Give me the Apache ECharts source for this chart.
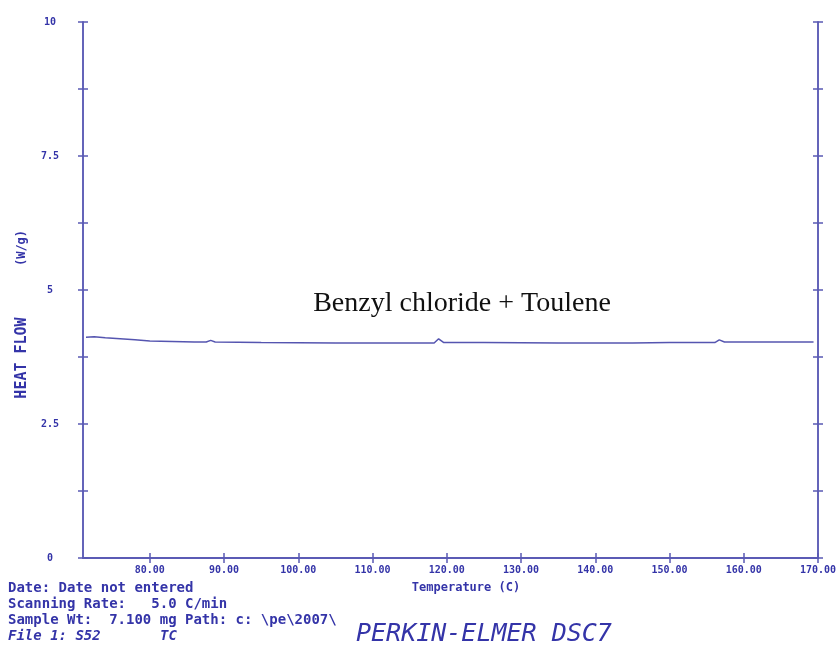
<!DOCTYPE html>
<html><head><meta charset="utf-8">
<script src="https://cdn.jsdelivr.net/npm/echarts@6/dist/echarts.min.js"></script>
<style>html,body{margin:0;padding:0;background:#fff}#c{width:840px;height:646px}</style>
</head><body><div id="c"></div>
<script>
// Temperature (C) and heat flow (W/g)
const temperature = [71.4,72.5,74,76,78,80,83,86,87.6,88.2,88.8,95,105,115,118.3,118.9,119.6,125,135,145,150,156.1,156.7,157.4,163,169.4];
const heatFlow   = [4.12,4.13,4.11,4.09,4.07,4.05,4.04,4.03,4.03,4.06,4.03,4.02,4.01,4.01,4.01,4.09,4.02,4.02,4.01,4.01,4.02,4.02,4.07,4.03,4.03,4.03];
const xTicks = [80,90,100,110,120,130,140,150,160,170];
const yLabels = [0,2.5,5,7.5,10];
const xMin = 71, xMax = 170, yMin = 0, yMax = 10, yTickStep = 1.25;

const ax = '#5a5ab4', txt = '#3434a8';
const mono = '"DejaVu Sans Mono", "Liberation Mono", monospace';
const lineStyle = {color: ax, width: 1.5};

function xa(extra){ return Object.assign({type:'value', min:xMin, max:xMax, position:'bottom',
  axisLine:{show:true, lineStyle}, splitLine:{show:false}, axisLabel:{show:false},
  axisTick:{show:true, customValues:xTicks, length:5, lineStyle}}, extra); }
function ya(extra){ return Object.assign({type:'value', min:yMin, max:yMax, interval:yTickStep, position:'left',
  axisLine:{show:true, lineStyle}, splitLine:{show:false}, axisLabel:{show:false},
  axisTick:{show:true, length:5, lineStyle}}, extra); }

const data = temperature.map((t,i)=>[t, heatFlow[i]]);

const chart = echarts.init(document.getElementById('c'));
chart.setOption({
  animation:false,
  backgroundColor:'#fff',
  grid:{left:83, right:22, top:22, bottom:88, containLabel:false},
  xAxis:[
    xa({axisTick:{show:true, customValues:xTicks, length:5, inside:false, lineStyle},
        axisLabel:{show:true, customValues:xTicks, margin:7, color:txt, fontFamily:mono, fontSize:10, fontWeight:'bold',
          formatter:v=>v.toFixed(2)}}),
    xa({axisTick:{show:true, customValues:xTicks, length:5, inside:true, lineStyle}}),
    xa({position:'top', axisTick:{show:false}})
  ],
  yAxis:[
    ya({axisTick:{show:true, length:5, inside:false, lineStyle},
        axisLabel:{show:true, customValues:yLabels, margin:33, align:'center', color:txt, fontFamily:mono, fontSize:10, fontWeight:'bold',
          formatter:v=>String(v)}}),
    ya({axisTick:{show:true, length:5, inside:true, lineStyle}}),
    ya({position:'right', axisTick:{show:true, length:5, inside:false, lineStyle}}),
    ya({position:'right', axisTick:{show:true, length:5, inside:true, lineStyle}})
  ],
  series:[{type:'line', data, xAxisIndex:0, yAxisIndex:0, showSymbol:false, symbol:'none',
    lineStyle:{color:'#5555b0', width:1.5}}],
  graphic:[
    {type:'text', x:462, y:304, style:{text:'Benzyl chloride + Toulene', fill:'#111', font:'28px "Liberation Serif", "Times New Roman", serif', textAlign:'center', textVerticalAlign:'middle'}},
    {type:'text', x:22, y:248, rotation:Math.PI/2, style:{text:'(W/g)', fill:txt, font:'bold 12px '+mono, textAlign:'center', textVerticalAlign:'middle'}},
    {type:'text', x:22, y:358, rotation:Math.PI/2, style:{text:'HEAT FLOW', fill:txt, font:'bold 15px '+mono, textAlign:'center', textVerticalAlign:'middle'}},
    {type:'text', x:466, y:588, style:{text:'Temperature (C)', fill:txt, font:'bold 12px '+mono, textAlign:'center', textVerticalAlign:'middle'}},
    {type:'text', x:8, y:588, style:{text:'Date: Date not entered', fill:txt, font:'bold 14px '+mono, textAlign:'left', textVerticalAlign:'middle'}},
    {type:'text', x:8, y:604, style:{text:'Scanning Rate:   5.0 C/min', fill:txt, font:'bold 14px '+mono, textAlign:'left', textVerticalAlign:'middle'}},
    {type:'text', x:8, y:620, style:{text:'Sample Wt:  7.100 mg Path: c: \\pe\\2007\\', fill:txt, font:'bold 14px '+mono, textAlign:'left', textVerticalAlign:'middle'}},
    {type:'text', x:8, y:636, style:{text:'File 1: S52', fill:txt, font:'italic bold 14px '+mono, textAlign:'left', textVerticalAlign:'middle'}},
    {type:'text', x:160, y:636, style:{text:'TC', fill:txt, font:'italic bold 14px '+mono, textAlign:'left', textVerticalAlign:'middle'}},
    {type:'text', x:356, y:634, style:{text:'PERKIN-ELMER DSC7', fill:txt, font:'italic 25px '+mono, textAlign:'left', textVerticalAlign:'middle'}}
  ]
});
</script></body></html>
